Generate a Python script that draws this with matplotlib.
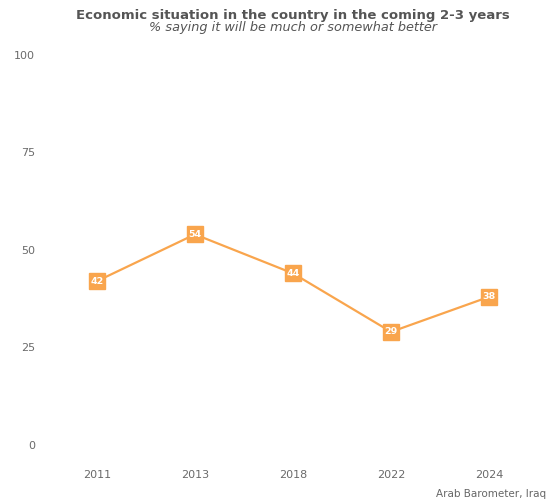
import matplotlib.pyplot as plt

years = ["2011", "2013", "2018", "2022", "2024"]
better_pct = [42, 54, 44, 29, 38]
y_ticks = [0, 25, 50, 75, 100]

ORANGE = "#F9A54D"
GREY = "#555555"

plt.rcParams["font.family"] = ["DejaVu Sans"]

fig = plt.figure(figsize=(5.51, 5.04), dpi=100)
ax = fig.add_axes([0.069, 0.0784, 0.9256, 0.8512])

xs = list(range(len(years)))
ax.plot(xs, better_pct, color=ORANGE, lw=1.6, zorder=2)
ax.plot(xs, better_pct, ls="none", marker="s", ms=12, color=ORANGE, zorder=3)
for x, v in zip(xs, better_pct):
    ax.text(x, v, str(v), ha="center", va="center", color="white",
            fontsize=6.8, fontweight="bold", zorder=4)

ax.set_xlim(-0.6, len(years) - 0.4)
ax.set_ylim(-5, 105)
ax.set_xticks(xs)
ax.set_xticklabels(years)
ax.set_yticks(y_ticks)
ax.tick_params(length=0, labelsize=8, labelcolor="#6a6a6a")
ax.tick_params(axis="y", pad=2)
ax.tick_params(axis="x", pad=4)
for s in ax.spines.values():
    s.set_visible(False)

cx = 293 / 551
fig.text(cx, 1 - 15 / 504, "Economic situation in the country in the coming 2-3 years",
         ha="center", va="center", fontsize=9.5, fontweight="bold", color=GREY)
fig.text(cx, 1 - 28 / 504, "% saying it will be much or somewhat better",
         ha="center", va="center", fontsize=9.3, style="italic", color=GREY)
fig.text(546 / 551, 1 - 494 / 504, "Arab Barometer, Iraq",
         ha="right", va="center", fontsize=7.5, color="#666666")

fig.savefig("out.png", dpi=100)
